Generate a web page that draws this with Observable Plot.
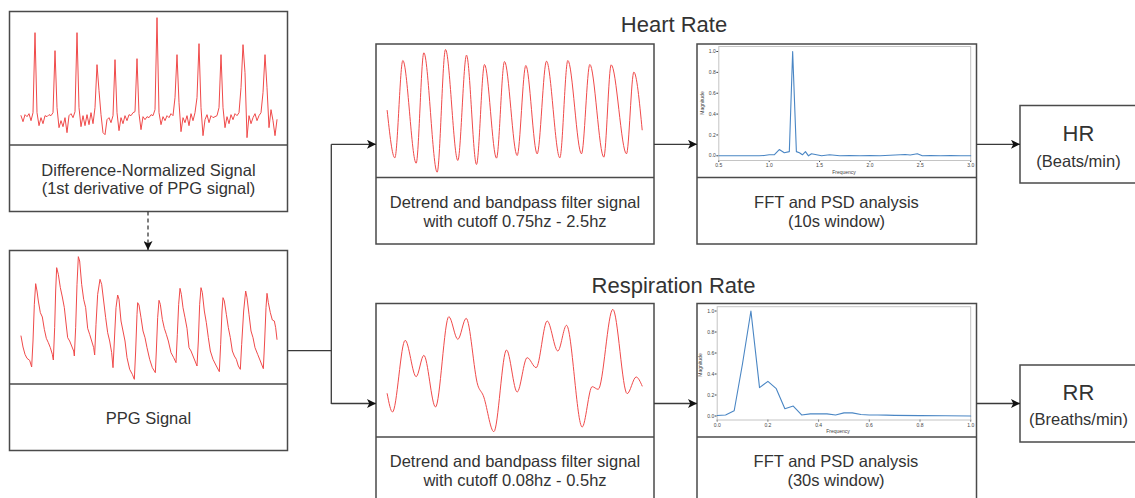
<!DOCTYPE html>
<html><head><meta charset="utf-8">
<script src="https://cdn.jsdelivr.net/npm/d3@7"></script>
<script src="https://cdn.jsdelivr.net/npm/@observablehq/plot@0.6"></script>
<style>
html,body{margin:0;padding:0;background:#fff;}
#stage{position:relative;width:1135px;height:498px;overflow:hidden;font-family:"Liberation Sans",Arial,sans-serif;}
#stage svg{position:absolute;}
</style></head><body><div id="stage"></div>
<script>
// ---------------- data ----------------
// 1st derivative (difference-normalized) PPG, uniform samples
const diffSignal = [0.02,-0.04,0.03,0.01,0.04,-0.03,0.05,0.85,0.05,-0.08,
0.0,-0.06,0.02,0.01,0.03,0.02,0.05,0.67,0.1,-0.1,
-0.03,-0.09,0.0,-0.15,0.02,0.04,0.0,0.06,0.85,0.1,
-0.09,0.02,-0.08,0.03,-0.07,0.05,-0.06,0.1,0.53,0.27,
0.03,-0.15,-0.17,-0.02,0.0,-0.05,0.02,0.58,0.05,-0.13,
0.0,-0.06,0.02,-0.03,0.03,0.02,0.05,0.06,0.59,0.04,
-0.12,0.01,-0.02,0.01,0.0,0.03,0.02,0.08,1.0,0.05,
-0.07,0.01,-0.03,0.02,0.0,0.04,0.02,0.2,0.63,0.15,
-0.14,0.0,-0.05,0.02,-0.08,0.04,-0.03,0.05,0.2,0.74,
0.1,-0.18,-0.02,0.03,-0.05,0.02,0.0,0.01,0.02,0.1,
0.63,0.1,-0.1,0.01,-0.06,0.03,-0.02,0.04,0.02,0.05,
0.3,0.73,0.45,-0.2,0.02,-0.06,0.0,0.04,-0.03,0.02,
0.05,0.25,0.63,0.3,-0.1,0.08,-0.03,-0.18,-0.02];

// raw PPG signal: sample index / amplitude
const ppgT = [0,6,12,18,26,32,36,40,44,48,52,58,64,70,76,82,88,94,97,101,104,107,112,118,124,130,136,140,146,152,158,160,164,168,172,176,182,188,194,200,206,212,218,221,225,230,237,242,248,254,260,266,272,276,280,285,290,294,300,306,312,318,326,334,340,344,348,350,354,360,366,372,378,386,394,403,406,410,414,418,424,430,436,442,450,458,465,469,473,477,481,486,492,498,504,510,516,522,528,532,536,540,544,550,556,562,568,576,586,595,599,603,606,610,616,622,628,634,640,646,652,658,662,668,674,678,684,690,696,702,710,718,727,731,735,738,742,748,754,760,764,768];
const ppgV = [115,82,60,48,42,22,100,210,272,250,220,185,172,135,108,95,80,60,43,140,250,320,300,260,232,200,145,110,100,85,70,55,140,270,353,340,270,225,200,138,120,100,80,58,150,240,285,270,220,170,125,100,65,20,100,200,238,225,160,130,100,50,15,0,-15,70,180,215,208,170,130,110,80,45,20,5,70,170,222,210,165,138,120,100,65,50,35,120,210,258,240,200,170,138,80,70,55,40,25,100,210,260,245,190,155,110,70,45,25,8,90,190,230,220,180,140,110,70,55,45,25,15,90,190,250,230,180,130,110,80,60,40,17,100,200,243,215,185,163,160,140,105];

// heart-rate band (0.75-2.5 Hz) filtered signal: extrema
const hrBandT = [0,23,47,87,110,150,175,212,238,268,292,328,352,390,416,450,478,518,542,583,608,650,672,718,740,765];
const hrBandV = [190,48,340,32,363,5,373,40,356,28,328,47,337,55,325,60,338,48,340,60,328,50,327,60,305,132];

// respiration band (0.08-0.5 Hz) filtered signal: extrema
const rrBandT = [0,16,54,87,110,145,185,212,237,272,288,320,358,390,420,447,480,512,538,585,615,633,677,720,747,765];
const rrBandV = [127,72,287,178,242,87,358,290,353,152,122,13,258,132,235,205,345,255,332,27,148,140,380,127,177,150];

// PSD, 10 s window
const hrFreq = [0.5,0.6,0.7,0.8,0.9,0.95,1.0,1.05,1.1,1.15,1.2,1.233,1.27,1.3,1.33,1.36,1.39,1.42,1.47,1.52,1.6,1.7,1.8,1.9,2.0,2.1,2.2,2.3,2.35,2.4,2.47,2.52,2.6,2.7,2.8,2.9,3.0];
const hrMag = [0,0,0,0,0,0.003,0.01,0.01,0.06,0.03,0.04,1.0,0.04,0.03,0.01,0.04,0.0,0.02,0.01,0.0,0.01,0.0,0.003,0.0,0.003,0.0,0.005,0.01,0.012,0.008,0.02,0.0,0.003,0.0,0.003,0,0];

// PSD, 30 s window
const rrFreq = [0,0.033,0.067,0.1,0.133,0.167,0.2,0.233,0.267,0.3,0.333,0.367,0.4,0.433,0.467,0.5,0.533,0.567,0.6,0.633,0.667,0.7,0.8,0.9,1.0];
const rrMag = [0.005,0.01,0.05,0.5,1.0,0.27,0.33,0.26,0.07,0.095,0.01,0.02,0.02,0.02,0.01,0.03,0.03,0.015,0.01,0.01,0.008,0.006,0.004,0.002,0.0];

const hrTicksX = [0.5,1.0,1.5,2.0,2.5,3.0];
const rrTicksX = [0,0.2,0.4,0.6,0.8,1.0];
const magTicks = [0,0.2,0.4,0.6,0.8,1.0];

const sectionTitles = ["Heart Rate","Respiration Rate"];
const boxLabels = {
  diff: ["Difference-Normalized Signal","(1st derivative of PPG signal)"],
  ppg: ["PPG Signal"],
  hrFilt: ["Detrend and bandpass filter signal","with cutoff 0.75hz - 2.5hz"],
  hrFft: ["FFT and PSD analysis","(10s window)"],
  rrFilt: ["Detrend and bandpass filter signal","with cutoff 0.08hz - 0.5hz"],
  rrFft: ["FFT and PSD analysis","(30s window)"],
  hr: ["HR","(Beats/min)"],
  rr: ["RR","(Breaths/min)"]
};

// ---------------- layout ----------------
const W = 1135, H = 498;
const FONT = "'Liberation Sans', Arial, sans-serif";
const RED = "#f04a4a", BLUE = "#4a86c4", EDGE = "#4a4a4a", TXT = "#333";
const B = {
  diff:   {x:9.5,  y:11.5,  w:278,   h:200, div:145},
  ppg:    {x:9.5,  y:250.5, w:278,   h:200, div:384},
  hrFilt: {x:376,  y:44,    w:278,   h:200, div:177.5},
  hrFft:  {x:697,  y:44,    w:279.5, h:200, div:177.5},
  rrFilt: {x:376,  y:303.5, w:278,   h:200, div:437},
  rrFft:  {x:697,  y:303.5, w:279.5, h:200, div:437},
  hr:     {x:1020, y:105.5, w:118,   h:77.5},
  rr:     {x:1020, y:365,   w:118,   h:77}
};

const stage = d3.select("#stage");
const svg = stage.append("svg").attr("width", W).attr("height", H).style("left","0px").style("top","0px");
svg.append("defs").append("marker")
  .attr("id","ah").attr("viewBox","0 0 10 10").attr("refX",10).attr("refY",5)
  .attr("markerWidth",9).attr("markerHeight",9).attr("markerUnits","userSpaceOnUse").attr("orient","auto")
  .append("path").attr("d","M0,0L10,5L0,10L2.5,5Z").attr("fill","#111");

// boxes
for (const k in B) {
  const b = B[k];
  svg.append("rect").attr("x",b.x).attr("y",b.y).attr("width",b.w).attr("height",b.h)
    .attr("fill","none").attr("stroke",EDGE).attr("stroke-width",1.5);
  if (b.div) svg.append("line").attr("x1",b.x).attr("x2",b.x+b.w).attr("y1",b.div).attr("y2",b.div)
    .attr("stroke",EDGE).attr("stroke-width",1.5);
}

// connectors
const conn = (d, arrow, dash) => {
  const p = svg.append("path").attr("d",d).attr("fill","none").attr("stroke","#3a3a3a").attr("stroke-width",1.3);
  if (arrow) p.attr("marker-end","url(#ah)");
  if (dash) p.attr("stroke-dasharray",dash);
};
conn("M148,211.5V250", true, "4,3");
conn("M287.5,350.7H331.3");
conn("M331.3,144.3V404");
conn("M331.3,144.3H376", true);
conn("M331.3,403.5H376", true);
conn("M654,144.3H697", true);
conn("M976.5,144.3H1020", true);
conn("M654,403.5H697", true);
conn("M976.5,403.5H1020", true);

// text
const txt = (s, x, y, size, extra) => {
  const t = svg.append("text").attr("x",x).attr("y",y).attr("text-anchor","middle")
    .attr("font-family",FONT).attr("font-size",size).attr("fill",TXT).text(s);
  if (extra) extra(t);
  return t;
};
txt(sectionTitles[0], 674, 31.5, 22);
txt(sectionTitles[1], 673.5, 293, 22);
txt(boxLabels.diff[0], 148.5, 175.5, 16.5);
txt(boxLabels.diff[1], 148.5, 193.5, 16.5);
txt(boxLabels.ppg[0], 148.5, 424, 16.5);
txt(boxLabels.hrFilt[0], 515, 208.3, 16.5);
txt(boxLabels.hrFilt[1], 515, 227, 16.5);
txt(boxLabels.hrFft[0], 836.5, 208.3, 16.5);
txt(boxLabels.hrFft[1], 836.5, 227, 16.5);
txt(boxLabels.rrFilt[0], 515, 466.7, 16.5);
txt(boxLabels.rrFilt[1], 515, 485.7, 16.5);
txt(boxLabels.rrFft[0], 836, 466.7, 16.5);
txt(boxLabels.rrFft[1], 836, 485.7, 16.5);
txt(boxLabels.hr[0], 1078.5, 140.7, 22);
txt(boxLabels.hr[1], 1078.5, 167, 16.5);
txt(boxLabels.rr[0], 1078.5, 400, 22);
txt(boxLabels.rr[1], 1078.5, 425, 16.5);
// inner PSD axis titles
txt("Magnitude", 0, 0, 5, t => t.attr("transform","translate(703.5,103) rotate(-90)").attr("fill","#444"));
txt("Frequency", 844, 173.5, 5, t => t.attr("fill","#444"));
txt("Magnitude", 0, 0, 5, t => t.attr("transform","translate(702,365) rotate(-90)").attr("fill","#444"));
txt("Frequency", 838, 433, 5, t => t.attr("fill","#444"));

// ---------------- Plot panels ----------------
function place(node, x, y) {
  node.style.position = "absolute";
  node.style.left = x + "px";
  node.style.top = y + "px";
  stage.node().appendChild(node);
}

// signal drawn in box's upper part; x/y scales derived from reading grid
function signalPanel({box, ox, oy, x0, s, C, k, t, v, curve}) {
  const h = box.div - box.y;
  const tmin = d3.min(t), tmax = d3.max(t);
  const xr = [ox + (x0 + s*tmin)/3 - box.x, ox + (x0 + s*tmax)/3 - box.x];
  const yd = [(C - 3*(box.y + h - oy))/k, (C - 3*(box.y - oy))/k];
  const data = t.map((tt, i) => ({t: tt, v: v[i]}));
  const p = Plot.plot({
    width: box.w, height: h, margin: 0,
    x: {domain: [tmin, tmax], range: xr, axis: null},
    y: {domain: yd, range: [h, 0], axis: null},
    style: {background: "transparent", overflow: "visible"},
    marks: [Plot.line(data, {x: "t", y: "v", stroke: RED, strokeWidth: 1, curve: curve || "linear"})]
  });
  place(p, box.x, box.y);
}

signalPanel({box: B.diff, ox: 0, oy: 0, x0: 60, s: 6, C: 350, k: 300,
  t: diffSignal.map((_, i) => i), v: diffSignal});
signalPanel({box: B.ppg, ox: 0, oy: 240, x0: 60, s: 1, C: 400, k: 1, t: ppgT, v: ppgV});
signalPanel({box: B.hrFilt, ox: 370, oy: 40, x0: 50, s: 1, C: 400, k: 1, t: hrBandT, v: hrBandV, curve: "monotone-x"});
signalPanel({box: B.rrFilt, ox: 370, oy: 295, x0: 50, s: 1, C: 420, k: 1, t: rrBandT, v: rrBandV, curve: "monotone-x"});

function fftPanel({box, ml, mr, mt, mb, f, m, xTicks, xDomain, yDomain}) {
  const h = box.div - box.y;
  const data = f.map((ff, i) => ({f: ff, m: m[i]}));
  const fmt = d3.format(".1f");
  const p = Plot.plot({
    width: box.w, height: h,
    marginLeft: ml, marginRight: mr, marginTop: mt, marginBottom: mb,
    x: {domain: xDomain, ticks: xTicks, tickFormat: fmt, tickSize: 2, tickPadding: 1, label: null},
    y: {domain: yDomain, ticks: magTicks, tickFormat: fmt, tickSize: 2, tickPadding: 1, label: null},
    style: {background: "transparent", overflow: "visible", fontSize: "5px", fontFamily: FONT, color: "#444"},
    marks: [
      Plot.frame({stroke: "#c4c4c4"}),
      Plot.line(data, {x: "f", y: "m", stroke: BLUE, strokeWidth: 1.1})
    ]
  });
  place(p, box.x, box.y);
}

fftPanel({box: B.hrFft, ml: 21.3, mr: 6.3, mt: 2, mb: 17.5, f: hrFreq, m: hrMag,
  xTicks: hrTicksX, xDomain: [0.5, 3.0], yDomain: [-0.045, 1.048]});
fftPanel({box: B.rrFft, ml: 19.7, mr: 6.3, mt: 2.2, mb: 18, f: rrFreq, m: rrMag,
  xTicks: rrTicksX, xDomain: [0, 1.0], yDomain: [-0.038, 1.041]});
</script></body></html>
